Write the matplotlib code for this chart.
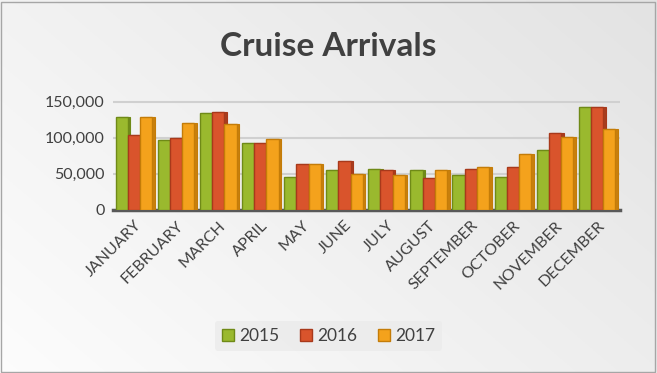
import matplotlib.pyplot as plt
import numpy as np
from matplotlib.patches import Rectangle

months = ["JANUARY", "FEBRUARY", "MARCH", "APRIL", "MAY", "JUNE", "JULY",
          "AUGUST", "SEPTEMBER", "OCTOBER", "NOVEMBER", "DECEMBER"]
arrivals_2015 = [128000, 97000, 134000, 93000, 46000, 55000, 57000, 55000, 49000, 45000, 83000, 143000]
arrivals_2016 = [104000, 100000, 136000, 93000, 64000, 68000, 56000, 44000, 57000, 60000, 106000, 143000]
arrivals_2017 = [128000, 121000, 119000, 98000, 64000, 50000, 48000, 56000, 60000, 78000, 101000, 112000]
years = ["2015", "2016", "2017"]

faces = ["#9AB92E", "#D9542C", "#F4A21C"]
edges = ["#6F8A17", "#A8391B", "#C47C08"]
sides = ["#6E8A1E", "#A63E20", "#C9800E"]

plt.rcParams["font.family"] = ["Lato", "DejaVu Sans"]

fig = plt.figure(figsize=(6.57, 3.73), dpi=100)

# background gradient and border
bg = fig.add_axes([0, 0, 1, 1], zorder=-10)
grad = np.linspace(0, 1, 256)
xx, yy = np.meshgrid(grad, grad)
shade = 0.99 - 0.10 * (0.6 * xx + 0.4 * yy)
bg.imshow(np.dstack([shade, shade, shade]), extent=[0, 1, 0, 1], aspect="auto", origin="lower")
bg.add_patch(Rectangle((0.002, 0.004), 0.995, 0.99, fill=False, edgecolor="#A6A6A6", lw=1))
bg.set_xlim(0, 1)
bg.set_ylim(0, 1)
bg.axis("off")

ax = fig.add_axes([0.172, 0.437, 0.772, 0.31])
ax.patch.set_alpha(0)

x = np.arange(len(months))
w = 0.29
depth = 0.06
series = [arrivals_2015, arrivals_2016, arrivals_2017]
for i, vals in enumerate(series):
    pos = x + (i - 1) * w
    # darker side face to suggest depth
    ax.bar(pos + depth, vals, w, color=sides[i], edgecolor=edges[i], lw=0.8, zorder=2 + i * 2)
    ax.bar(pos, vals, w, color=faces[i], edgecolor=edges[i], lw=1.0, zorder=3 + i * 2,
           label=years[i])

ax.set_ylim(0, 160000)
ax.set_xlim(-0.5, 11.55)
ax.set_yticks([0, 50000, 100000, 150000])
ax.set_yticklabels(["0", "50,000", "100,000", "150,000"])
ax.yaxis.grid(True, color="#D0D0D0", lw=1.5, zorder=0)
ax.set_axisbelow(True)
ax.set_xticks(x)
ax.set_xticklabels(months, rotation=45, ha="right", rotation_mode="anchor")
ax.tick_params(axis="both", length=0, labelsize=11.5, colors="#404040", pad=6)
for s in ["top", "right", "left"]:
    ax.spines[s].set_visible(False)
ax.spines["bottom"].set_color("#595959")
ax.spines["bottom"].set_linewidth(2.5)

fig.text(0.5, 0.875, "Cruise Arrivals", ha="center", va="center", fontsize=24,
         fontweight="bold", color="#404040")

leg = fig.legend(loc="center", bbox_to_anchor=(0.5, 0.1), ncol=3, frameon=True,
                 fontsize=12.5, handlelength=0.7, handleheight=0.7, handletextpad=0.3,
                 columnspacing=1.2, borderpad=0.4)
leg.get_frame().set_facecolor("#EBEBEB")
leg.get_frame().set_edgecolor("none")
for t in leg.get_texts():
    t.set_color("#404040")

fig.savefig("out.png", dpi=100)
